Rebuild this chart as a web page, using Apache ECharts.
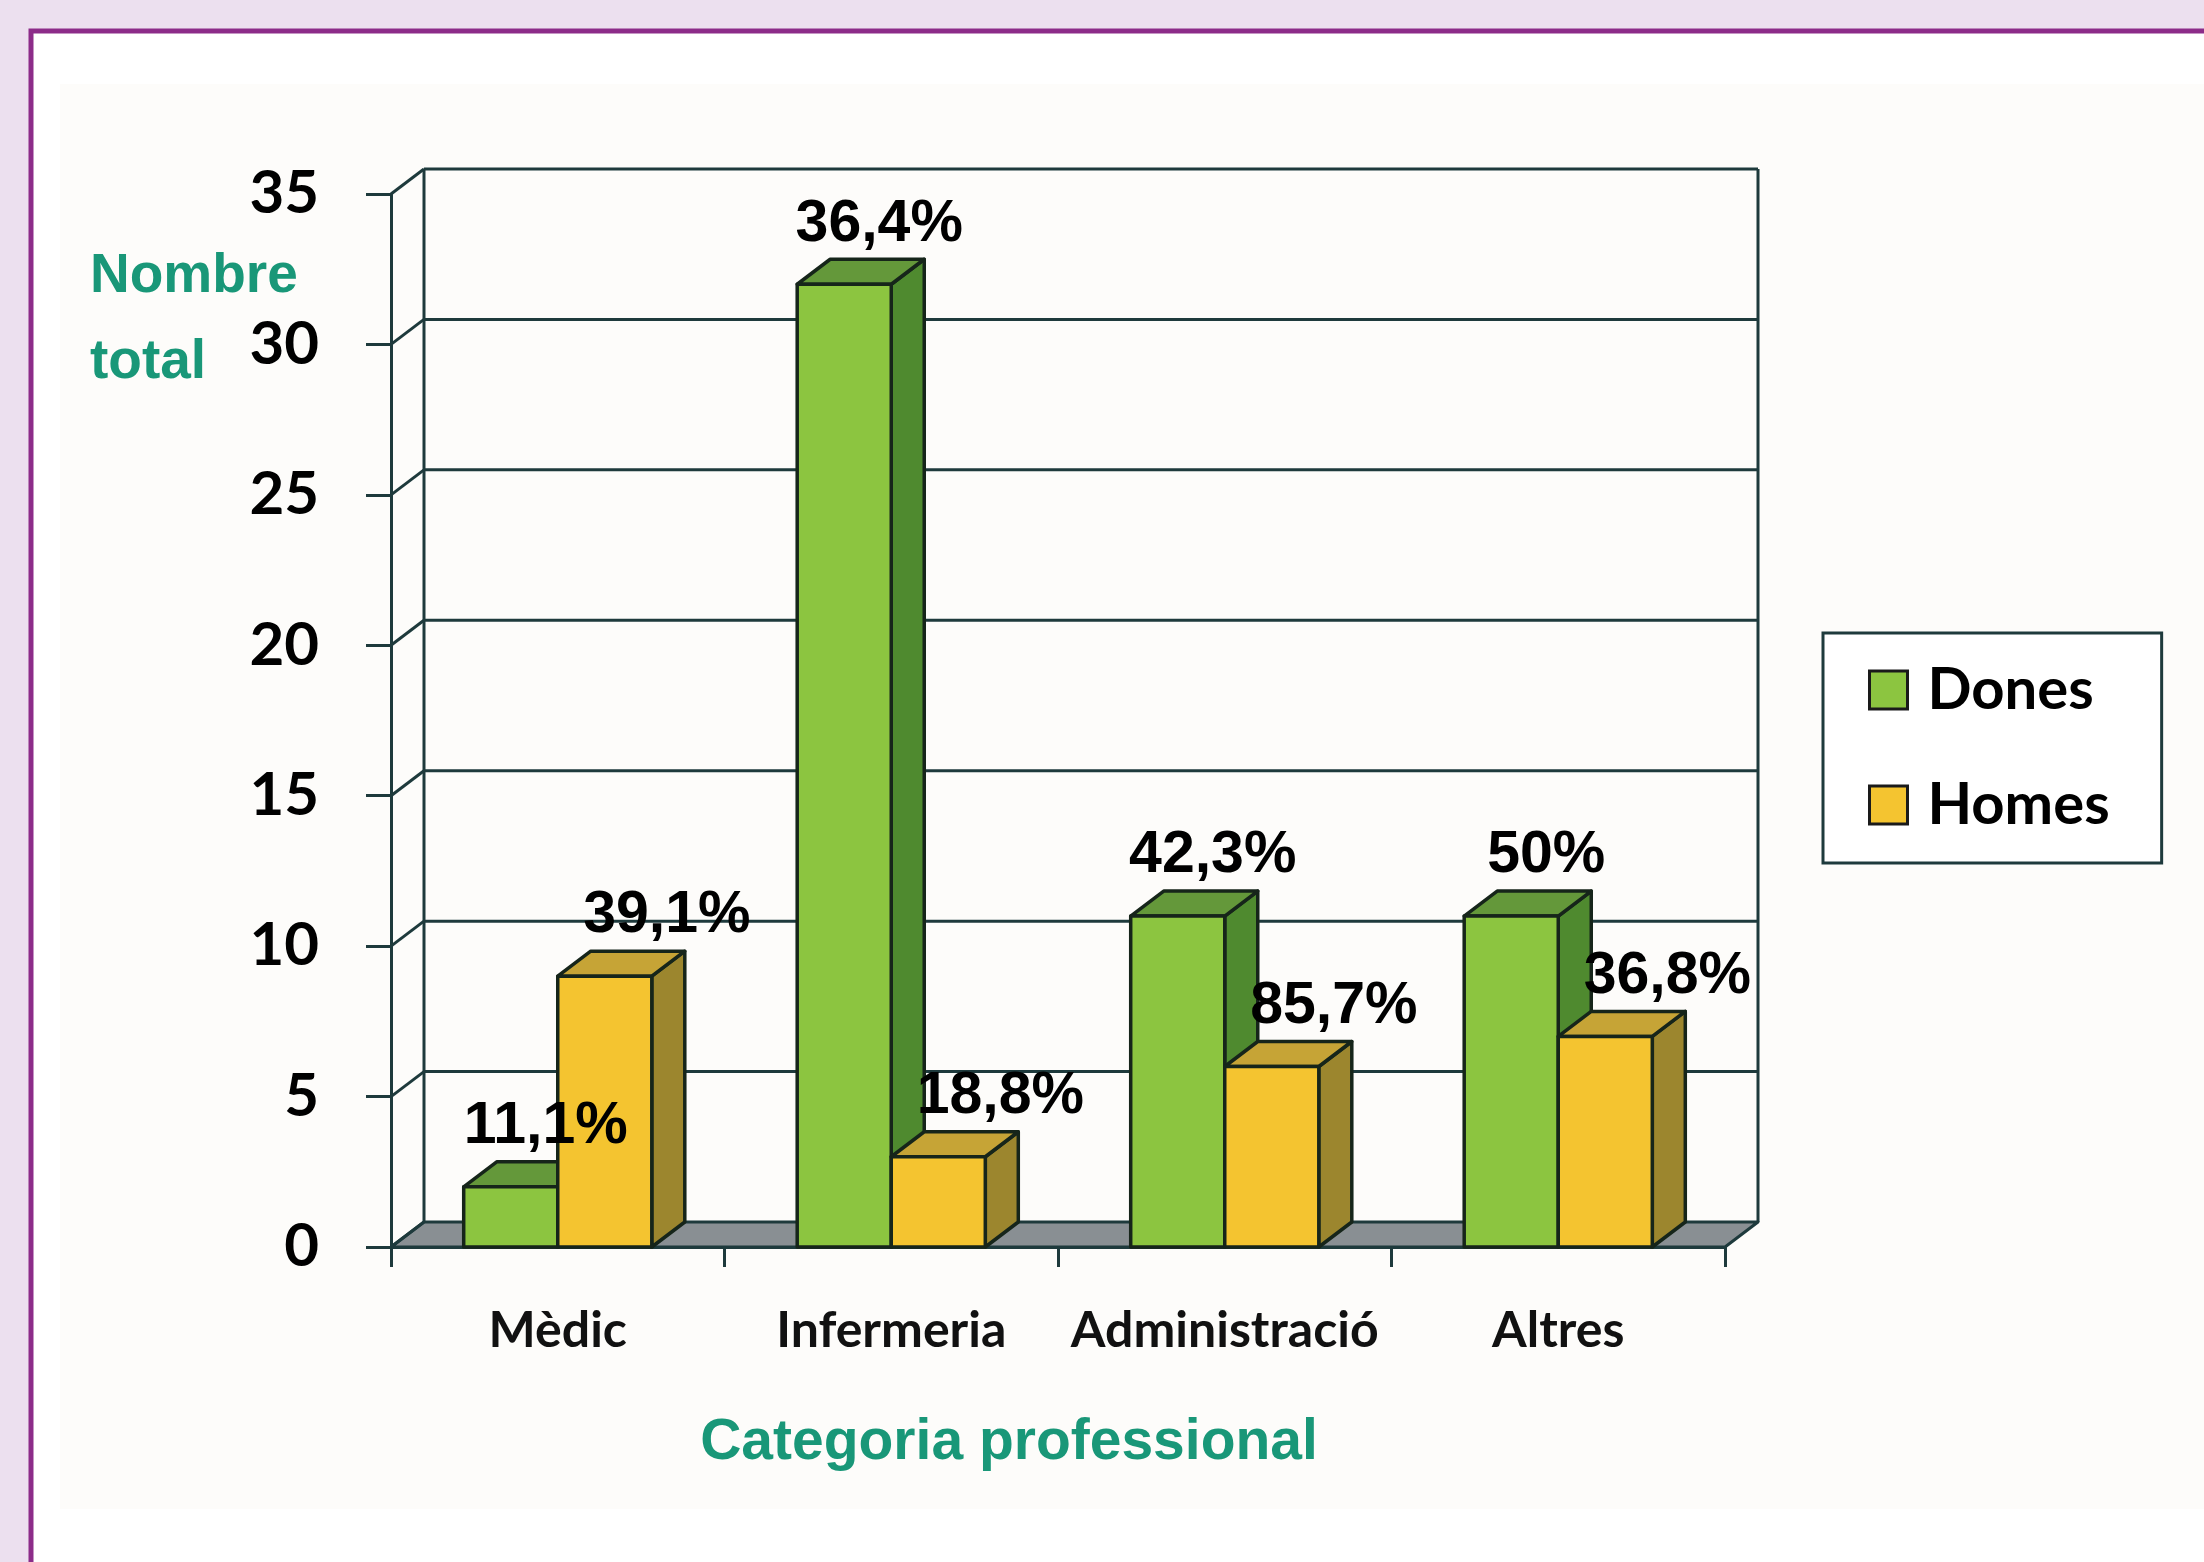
<!DOCTYPE html>
<html>
<head>
<meta charset="utf-8">
<script src="https://cdn.jsdelivr.net/npm/echarts@6/dist/echarts.min.js"></script>
<style>
  html, body { margin: 0; padding: 0; background: #ECE0EF; }
  #chart { width: 2204px; height: 1562px; }
</style>
</head>
<body>
<div id="chart"></div>
<script>
// ---- data ----
const categories = ['Mèdic', 'Infermeria', 'Administració', 'Altres'];
const donesValues = [2, 32, 11, 11];
const homesValues = [9, 3, 6, 7];
const donesPct = ['11,1%', '36,4%', '42,3%', '50%'];
const homesPct = ['39,1%', '18,8%', '85,7%', '36,8%'];
const yTicks = [0, 5, 10, 15, 20, 25, 30, 35];
const seriesNames = ['Dones', 'Homes'];

// ---- style ----
const DX = 33, DY = -25;           // depth offset of the 3D box
const BAR_RATIO = 0.282;           // bar width relative to category band
const LINE = '#1E3A3C';
const EDGE = '#16251A';
const GREEN = { front: '#8CC540', side: '#4F8A2F', top: '#64983A' };
const YELLOW = { front: '#F4C430', side: '#9C862E', top: '#C6A436' };
const TITLE_GREEN = '#199778';

const chart = echarts.init(document.getElementById('chart'), null, { renderer: 'canvas' });

function wallRender(params, api) {
  const cs = params.coordSys;
  const v = api.value(1);
  const y = api.coord([0, v])[1];
  const xl = cs.x, xr = cs.x + cs.width;
  const children = [];
  const ls = { stroke: LINE, lineWidth: 3 };
  if (v === yTicks[0]) {
    children.push({
      type: 'polygon',
      shape: { points: [[xl, y], [xr, y], [xr + DX, y + DY], [xl + DX, y + DY]] },
      style: { fill: '#898F93', stroke: LINE, lineWidth: 3, lineJoin: 'round' }
    });
  } else {
    children.push({ type: 'line', shape: { x1: xl + DX, y1: y + DY, x2: xr + DX, y2: y + DY }, style: ls });
  }
  children.push({ type: 'line', shape: { x1: xl, y1: y, x2: xl + DX, y2: y + DY }, style: ls });
  if (v === yTicks[yTicks.length - 1]) {
    const y0 = api.coord([0, yTicks[0]])[1];
    children.push({ type: 'line', shape: { x1: xl + DX, y1: y + DY, x2: xl + DX, y2: y0 + DY }, style: ls });
    children.push({ type: 'line', shape: { x1: xr + DX, y1: y + DY, x2: xr + DX, y2: y0 + DY }, style: ls });
  }
  return { type: 'group', children };
}

function barRender(sideSign, colors, pcts, labelDx) {
  return function (params, api) {
    const i = api.value(0), v = api.value(1);
    const top = api.coord([i, v]);
    const base = api.coord([i, 0]);
    const band = api.size([1, 0])[0];
    const w = band * BAR_RATIO;
    const x0 = sideSign < 0 ? top[0] - w : top[0];
    const x1 = x0 + w;
    const yT = top[1], yB = base[1];
    const st = { stroke: EDGE, lineWidth: 3.5, lineJoin: 'round' };
    return {
      type: 'group',
      children: [
        { type: 'polygon', shape: { points: [[x1, yT], [x1 + DX, yT + DY], [x1 + DX, yB + DY], [x1, yB]] },
          style: Object.assign({ fill: colors.side }, st) },
        { type: 'polygon', shape: { points: [[x0, yT], [x0 + DX, yT + DY], [x1 + DX, yT + DY], [x1, yT]] },
          style: Object.assign({ fill: colors.top }, st) },
        { type: 'rect', shape: { x: x0, y: yT, width: w, height: yB - yT },
          style: Object.assign({ fill: colors.front }, st) },
        { type: 'text', z2: 100,
          style: { text: pcts[params.dataIndex], x: (x0 + x1) / 2 + labelDx, y: yT - 60,
                   align: 'center', verticalAlign: 'middle',
                   fontFamily: 'Liberation Sans', fontWeight: 'bold', fontSize: 59, fill: '#000' } }
      ]
    };
  };
}

const option = {
  backgroundColor: '#ECE0EF',
  animation: false,
  graphic: {
    elements: [
      { type: 'rect', z: -10, shape: { x: 31, y: 31, width: 2200, height: 1560 },
        style: { fill: '#FFFFFF', stroke: '#8C2C89', lineWidth: 5 } },
      { type: 'rect', z: -9, shape: { x: 60, y: 84, width: 2144, height: 1425 },
        style: { fill: '#FDFCFA' } }
    ]
  },
  title: {
    text: 'Nombre\ntotal',
    left: 90, top: 234, padding: 0,
    textStyle: { fontFamily: 'Liberation Sans', fontWeight: 'bold', fontSize: 55, lineHeight: 86, color: TITLE_GREEN }
  },
  legend: {
    orient: 'vertical',
    left: 1823, top: 633,
    padding: [27, 52, 28, 45],
    itemGap: 55,
    itemWidth: 38, itemHeight: 38,
    icon: 'rect',
    backgroundColor: '#FFFFFF',
    borderColor: LINE, borderWidth: 3, borderRadius: 0,
    itemStyle: { borderColor: '#1A1A1A', borderWidth: 3 },
    textStyle: { fontFamily: 'Lato', fontWeight: 'bold', fontSize: 58, lineHeight: 60, color: '#000', padding: [0, 0, 0, 15] },
    data: seriesNames
  },
  grid: { left: 391, right: 2204 - 1725, top: 194, bottom: 1562 - 1247, containLabel: false },
  xAxis: {
    type: 'category',
    data: categories,
    boundaryGap: true,
    axisLine: { show: true, lineStyle: { color: LINE, width: 3 } },
    axisTick: { show: true, interval: 0, alignWithLabel: false, length: 20, lineStyle: { color: LINE, width: 3 } },
    axisLabel: { interval: 0, margin: 59, fontFamily: 'Lato', fontWeight: 'bold', fontSize: 50, color: '#111' },
    splitLine: { show: false },
    name: 'Categoria professional',
    nameLocation: 'middle',
    nameGap: 168,
    nameTextStyle: { fontFamily: 'Liberation Sans', fontWeight: 'bold', fontSize: 57, color: TITLE_GREEN, padding: [0, 98, 0, 0] }
  },
  yAxis: {
    type: 'value',
    min: 0, max: 35, interval: 5,
    axisLine: { show: true, lineStyle: { color: LINE, width: 3 } },
    axisTick: { show: true, length: 25, lineStyle: { color: LINE, width: 3 } },
    axisLabel: { margin: 72, fontFamily: 'Lato', fontWeight: 'bold', fontSize: 60, color: '#000' },
    splitLine: { show: false }
  },
  series: [
    {
      type: 'custom', name: '__walls', z: 1, silent: true,
      renderItem: wallRender,
      data: yTicks.map(v => [0, v])
    },
    {
      type: 'custom', name: seriesNames[0], z: 2,
      itemStyle: { color: GREEN.front },
      renderItem: barRender(-1, GREEN, donesPct, 35),
      data: donesValues.map((v, i) => [i, v])
    },
    {
      type: 'custom', name: seriesNames[1], z: 2,
      itemStyle: { color: YELLOW.front },
      renderItem: barRender(1, YELLOW, homesPct, 62),
      data: homesValues.map((v, i) => [i, v])
    }
  ]
};
chart.setOption(option);
</script>
</body>
</html>
